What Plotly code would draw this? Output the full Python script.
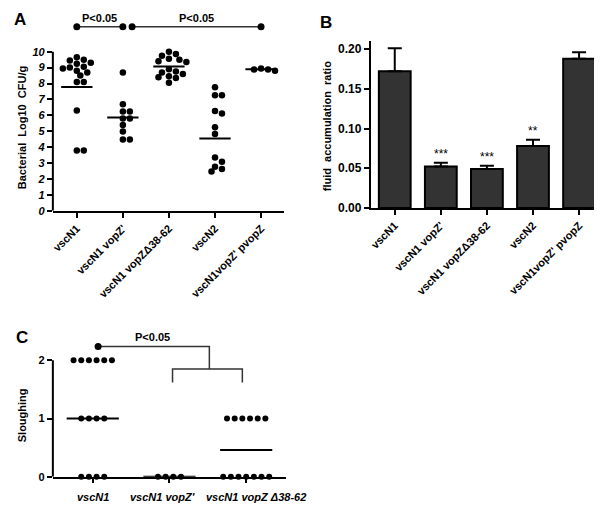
import plotly.graph_objects as go

W, H = 602, 507
FONT = "Liberation Sans, Arial, sans-serif"

# ---------------- data ----------------
groups = ["vscN1", "vscN1 vopZ'", "vscN1 vopZ\u039438-62", "vscN2", "vscN1vopZ' pvopZ"]

cfu_vscN1 = [9.65, 9.5, 9.45, 9.3, 9.25, 9.05, 9.0, 8.95, 8.8, 8.7, 8.5, 8.1, 8.1, 6.3, 3.8, 3.8]
cfu_vopZ = [8.7, 6.69, 6.24, 6.24, 5.8, 5.8, 5.39, 4.98, 4.48, 4.48]
cfu_delta = [10.0, 9.85, 9.75, 9.55, 9.5, 9.4, 9.35, 8.9, 8.75, 8.7, 8.6, 8.45, 8.4, 8.35, 8.05]
cfu_vscN2 = [7.77, 7.27, 7.27, 6.28, 6.11, 5.25, 4.83, 3.35, 3.08, 2.77, 2.63, 2.48]
cfu_pvopZ = [8.95, 8.88, 8.88, 8.8]
cfu_means = [7.78, 5.87, 9.07, 4.55, 8.9]
cfu_ticks = [0, 1, 2, 3, 4, 5, 6, 7, 8, 9, 10]

fluid_ratio = [0.172, 0.052, 0.049, 0.078, 0.188]
fluid_sem = [0.029, 0.005, 0.004, 0.008, 0.008]
fluid_sig = ["", "***", "***", "**", ""]
fluid_ticks = [0.0, 0.05, 0.10, 0.15, 0.20]

slough_groups = ["vscN1", "vscN1 vopZ'", "vscN1 vopZ \u039438-62"]
slough_vscN1 = [2, 2, 2, 2, 2, 2, 1, 1, 1, 1, 0, 0, 0, 0]
slough_vopZ = [0, 0, 0, 0]
slough_delta = [1, 1, 1, 1, 1, 1, 0, 0, 0, 0, 0, 0, 0]
slough_lines = [1.0, 0.0, 0.46]
slough_ticks = [0, 1, 2]

# ---------------- geometry helpers ----------------
def xdom(l, r):
    return [l / W, r / W]

def ydom(bottom_px, top_px):
    return [1 - bottom_px / H, 1 - top_px / H]

# Panel A
A_L, A_R = 43, 275
A_XR = [0.48, 5.5]
A_Y0, A_PPU, A_YMAX = 205.7, 16.14, 11.7
A_PPX = (A_R - A_L) / (A_XR[1] - A_XR[0])
# Panel B
B_L, B_R = 362, 595
B_XR = [0.48, 5.52]
B_Y0, B_PPU, B_YMAX = 202.7, 805.0, 0.21
# Panel C
C_L, C_R = 43, 277
C_XR = [0.48, 3.52]
C_Y0, C_PPU, C_YMAX = 475.3, 59.0, 2.3


def swarm(vals, ppu_y, ppu_x, step, mind):
    placed, offs = [], []
    cands = [0]
    for i in range(1, 20):
        cands += [i * step, -i * step]
    for v in vals:
        y = v * ppu_y
        chosen = cands[-1]
        for c in cands:
            if all((c - px) ** 2 + (y - py) ** 2 >= mind ** 2 for px, py in placed):
                chosen = c
                break
        placed.append((chosen, y))
        offs.append(chosen / ppu_x)
    return offs


def row_spread(vals, step):
    offs = []
    counts = {}
    for v in vals:
        counts[v] = counts.get(v, 0) + 1
    idx = {}
    for v in vals:
        i = idx.get(v, 0)
        idx[v] = i + 1
        offs.append((i - (counts[v] - 1) / 2) * step)
    return offs


fig = go.Figure()

# ---------------- Panel A ----------------
cfu_all = [cfu_vscN1, cfu_vopZ, cfu_delta, cfu_vscN2, cfu_pvopZ]
for gi, vals in enumerate(cfu_all):
    offs = swarm(vals, A_PPU, A_PPX, 3.5, 5.8)
    fig.add_trace(go.Scatter(
        x=[gi + 1 + o for o in offs], y=vals, mode="markers",
        marker=dict(color="black", size=6.5), cliponaxis=False,
        xaxis="x", yaxis="y"))
    m = cfu_means[gi]
    fig.add_trace(go.Scatter(
        x=[gi + 1 - 0.34, gi + 1 + 0.34], y=[m, m], mode="lines",
        line=dict(color="black", width=2), xaxis="x", yaxis="y"))

# significance brackets A
brk_y = 11.57
for (x0, x1) in [(1, 2), (2.2, 5)]:
    fig.add_trace(go.Scatter(
        x=[x0, x1], y=[brk_y, brk_y], mode="lines+markers",
        line=dict(color="#333333", width=1.5),
        marker=dict(color="black", size=7), cliponaxis=False,
        xaxis="x", yaxis="y"))

# ---------------- Panel B ----------------
fig.add_trace(go.Bar(
    x=[1, 2, 3, 4, 5], y=fluid_ratio, width=0.69,
    marker=dict(color="#333333", line=dict(color="black", width=2)),
    error_y=dict(type="data", array=fluid_sem, arrayminus=[0] * 5,
                 symmetric=False, color="black", thickness=2, width=7),
    xaxis="x2", yaxis="y2"))

# ---------------- Panel C ----------------
slough_all = [slough_vscN1, slough_vopZ, slough_delta]
for gi, vals in enumerate(slough_all):
    offs = row_spread(vals, 0.1)
    fig.add_trace(go.Scatter(
        x=[gi + 1 + o for o in offs], y=vals, mode="markers",
        marker=dict(color="black", size=6), cliponaxis=False,
        xaxis="x3", yaxis="y3"))
    m = slough_lines[gi]
    fig.add_trace(go.Scatter(
        x=[gi + 1 - 0.34, gi + 1 + 0.34], y=[m, m], mode="lines",
        line=dict(color="black", width=2), cliponaxis=False,
        xaxis="x3", yaxis="y3"))

# bracket C
fig.add_trace(go.Scatter(
    x=[1.07, 2.52, 2.52], y=[2.24, 2.24, 1.85], mode="lines",
    line=dict(color="#333333", width=1.5), xaxis="x3", yaxis="y3"))
fig.add_trace(go.Scatter(
    x=[2.04, 2.04, 2.95, 2.95], y=[1.62, 1.85, 1.85, 1.62], mode="lines",
    line=dict(color="#333333", width=1.5), xaxis="x3", yaxis="y3"))
fig.add_trace(go.Scatter(
    x=[1.07], y=[2.24], mode="markers", marker=dict(color="black", size=7),
    cliponaxis=False, xaxis="x3", yaxis="y3"))

# ---------------- axes ----------------
base = dict(showgrid=False, zeroline=False, linecolor="black", linewidth=2,
            ticks="outside", tickcolor="black", tickwidth=1.5, ticklen=5,
            color="black", fixedrange=True)
bold = dict(family=FONT, size=11, color="black", weight="bold")
bold12 = dict(family=FONT, size=12, color="black", weight="bold")
bold_it = dict(family=FONT, size=11, color="black", weight="bold", style="italic")

fig.update_layout(
    width=W, height=H, margin=dict(l=0, r=0, t=0, b=0),
    paper_bgcolor="white", plot_bgcolor="white", showlegend=False,
    xaxis=dict(base, domain=xdom(A_L, A_R), range=A_XR, showline=True,
               tickvals=[1, 2, 3, 4, 5], ticktext=groups, tickangle=-45,
               tickfont=bold, anchor="y"),
    yaxis=dict(base, domain=ydom(A_Y0, A_Y0 - A_YMAX * A_PPU), range=[0, A_YMAX],
               showline=False, tickvals=cfu_ticks, tickfont=bold_it, anchor="x"),
    xaxis2=dict(base, domain=xdom(B_L, B_R), range=B_XR, showline=True,
                tickvals=[1, 2, 3, 4, 5], ticktext=groups, tickangle=-45,
                tickfont=bold, anchor="y2"),
    yaxis2=dict(base, domain=ydom(B_Y0, B_Y0 - B_YMAX * B_PPU), range=[0, B_YMAX],
                showline=True, tickvals=fluid_ticks, tickformat=".2f",
                tickfont=bold12, anchor="x2"),
    xaxis3=dict(base, domain=xdom(C_L, C_R), range=C_XR, showline=True,
                tickvals=[1, 2, 3], showticklabels=False, ticklen=4,
                anchor="y3"),
    yaxis3=dict(base, domain=ydom(C_Y0, C_Y0 - C_YMAX * C_PPU), range=[0, C_YMAX],
                showline=False, tickvals=slough_ticks, tickfont=bold, anchor="x3"),
)

# y-axis lines (only up to the top tick) for A and C
fig.add_shape(type="line", xref="x domain", yref="y", x0=0, x1=0, y0=0, y1=10,
              line=dict(color="black", width=2))
fig.add_shape(type="line", xref="x3 domain", yref="y3", x0=0, x1=0, y0=0, y1=2,
              line=dict(color="black", width=2))

# ---------------- annotations ----------------
ann = []
for txt, xp, yp in [("A", 10, 12), ("B", 317, 15), ("C", 12, 334)]:
    ann.append(dict(text=txt, x=xp / W, y=1 - yp / H, xref="paper", yref="paper",
                    showarrow=False, xanchor="center", yanchor="middle",
                    font=dict(family=FONT, size=17, color="black", weight="bold")))
# axis titles
for txt, xp, yp in [("Bacterial  Log10  CFU/g", 12, 121),
                    ("fluid  accumulation  ratio", 318, 120),
                    ("Sloughing", 12, 413)]:
    ann.append(dict(text=txt, x=xp / W, y=1 - yp / H, xref="paper", yref="paper",
                    showarrow=False, textangle=-90, xanchor="center", yanchor="middle",
                    font=bold))
# P values A
for (x0, x1) in [(1, 2), (2.2, 5)]:
    ann.append(dict(text="P<0.05", x=(x0 + x1) / 2, y=brk_y, xref="x", yref="y",
                    showarrow=False, yanchor="bottom", yshift=1, font=bold))
# P value C
ann.append(dict(text="P<0.05", x=1.78, y=2.24, xref="x3", yref="y3",
                showarrow=False, yanchor="bottom", yshift=1, font=bold))
# asterisks B
for i, s in enumerate(fluid_sig):
    if s:
        ann.append(dict(text=s, x=i + 1, y=fluid_ratio[i] + fluid_sem[i],
                        xref="x2", yref="y2", showarrow=False, yanchor="bottom",
                        yshift=0, font=dict(family=FONT, size=12, color="black")))
# category labels C (horizontal)
for i, (txt, xs) in enumerate(zip(slough_groups, [0, -7, 10])):
    ann.append(dict(text=txt, x=i + 1, y=0, xref="x3", yref="y3", showarrow=False,
                    xanchor="center", yanchor="top", yshift=-12, xshift=xs,
                    font=bold_it))
fig.update_layout(annotations=ann)

fig.write_html("out.html")
